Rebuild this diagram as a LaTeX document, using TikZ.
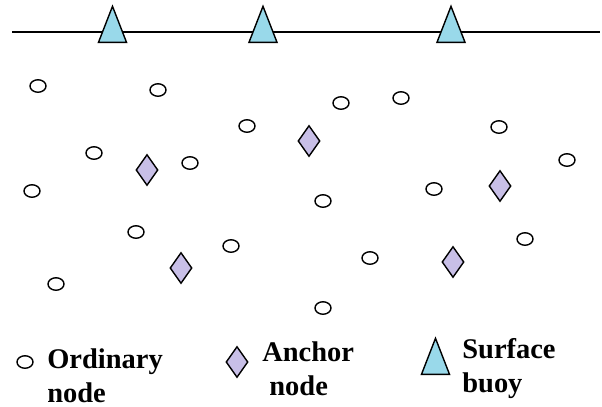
\documentclass[tikz,border=0pt]{standalone}
\usepackage{fontspec}
\setmainfont{Liberation Serif}
\usetikzlibrary{shapes.geometric}
\definecolor{buoyblue}{RGB}{153,217,234}
\definecolor{anchorlilac}{RGB}{200,191,231}
\begin{document}
\begin{tikzpicture}[x=0.02cm,y=-0.02cm,
  ordinary/.style={draw,line width=0.8pt,ellipse,inner sep=0pt,minimum width=0.32cm,minimum height=0.25cm},
  anchornode/.style={draw,line width=0.8pt,fill=anchorlilac,diamond,inner sep=0pt,minimum width=0.44cm,minimum height=0.62cm},
  buoy/.style={draw,line width=0.8pt,fill=buoyblue,isosceles triangle,isosceles triangle stretches,shape border rotate=90,inner sep=0pt,minimum width=0.56cm,minimum height=0.72cm,anchor=south},
  legend/.style={font=\fontsize{16.2}{18.8}\selectfont\bfseries,align=left,anchor=base west,inner sep=0pt}]
\useasboundingbox (0,0) rectangle (602,406);
% sea surface
\coordinate (left) at (12,32);
\coordinate (right) at (600,32);
\draw[line width=0.8pt] (left) -- (right);
\node[buoy] (b1) at (112.5,43) {};
\node[buoy] (b2) at (263,43) {};
\node[buoy] (b3) at (451,43) {};
% ordinary nodes
\node[ordinary] (o1) at (38,86) {};
\node[ordinary] (o2) at (158,90) {};
\node[ordinary] (o3) at (94,153) {};
\node[ordinary] (o4) at (190,163) {};
\node[ordinary] (o5) at (32,191) {};
\node[ordinary] (o6) at (247,126) {};
\node[ordinary] (o7) at (341,103) {};
\node[ordinary] (o8) at (401,98) {};
\node[ordinary] (o9) at (499,127) {};
\node[ordinary] (o10) at (567,160) {};
\node[ordinary] (o11) at (434,189) {};
\node[ordinary] (o12) at (323,201) {};
\node[ordinary] (o13) at (136,232) {};
\node[ordinary] (o14) at (231,246) {};
\node[ordinary] (o15) at (370,258) {};
\node[ordinary] (o16) at (525,239) {};
\node[ordinary] (o17) at (56,284) {};
\node[ordinary] (o18) at (323,308) {};
% anchor nodes
\node[anchornode] (a1) at (147,170) {};
\node[anchornode] (a2) at (309,141) {};
\node[anchornode] (a3) at (181,268) {};
\node[anchornode] (a4) at (500,186) {};
\node[anchornode] (a5) at (453,262) {};
% legend
\node[ordinary] (lo) at (25,362) {};
\node[legend] (lotext) at (47,402) {Ordinary\\node};
\node[anchornode] (la) at (237,362) {};
\node[legend] (latext) at (262,395) {Anchor\\\hspace{4pt}node};
\node[buoy] (lb) at (435.5,375) {};
\node[legend] (lbtext) at (462,392) {Surface\\buoy};
\end{tikzpicture}
\end{document}
